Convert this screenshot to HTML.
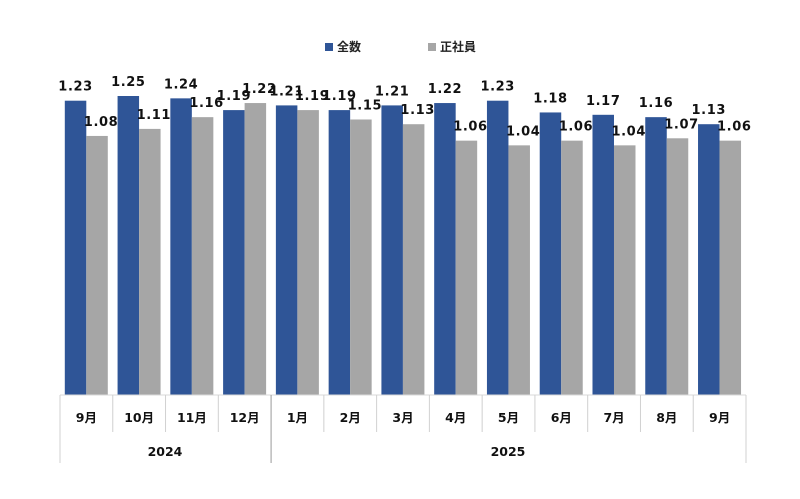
<!DOCTYPE html><html><head><meta charset="utf-8"><style>body{margin:0;background:#fff}</style></head><body>
<svg width="800" height="494" xmlns="http://www.w3.org/2000/svg" font-family="DejaVu Sans, 'Noto Sans CJK JP', sans-serif" font-weight="bold">
<rect x="325" y="43" width="8" height="8" fill="#2f5597"/><text x="337" y="51" font-size="12" fill="#222">全数</text>
<rect x="428" y="43" width="8" height="8" fill="#a6a6a6"/><text x="440" y="51" font-size="12" fill="#222">正社員</text>
<g fill="#2f5597">
<rect x="64.8" y="100.7" width="21.5" height="294.3"/>
<rect x="117.57" y="96" width="21.5" height="299"/>
<rect x="170.34" y="98.35" width="21.5" height="296.65"/>
<rect x="223.11" y="110.1" width="21.5" height="284.9"/>
<rect x="275.88" y="105.4" width="21.5" height="289.6"/>
<rect x="328.65" y="110.1" width="21.5" height="284.9"/>
<rect x="381.42" y="105.4" width="21.5" height="289.6"/>
<rect x="434.18" y="103.05" width="21.5" height="291.95"/>
<rect x="486.95" y="100.7" width="21.5" height="294.3"/>
<rect x="539.72" y="112.45" width="21.5" height="282.55"/>
<rect x="592.49" y="114.8" width="21.5" height="280.2"/>
<rect x="645.26" y="117.15" width="21.5" height="277.85"/>
<rect x="698.03" y="124.2" width="21.5" height="270.8"/>
</g>
<g fill="#a6a6a6">
<rect x="86.3" y="135.95" width="21.5" height="259.05"/>
<rect x="139.07" y="128.9" width="21.5" height="266.1"/>
<rect x="191.84" y="117.15" width="21.5" height="277.85"/>
<rect x="244.61" y="103.05" width="21.5" height="291.95"/>
<rect x="297.38" y="110.1" width="21.5" height="284.9"/>
<rect x="350.15" y="119.5" width="21.5" height="275.5"/>
<rect x="402.92" y="124.2" width="21.5" height="270.8"/>
<rect x="455.68" y="140.65" width="21.5" height="254.35"/>
<rect x="508.45" y="145.35" width="21.5" height="249.65"/>
<rect x="561.22" y="140.65" width="21.5" height="254.35"/>
<rect x="613.99" y="145.35" width="21.5" height="249.65"/>
<rect x="666.76" y="138.3" width="21.5" height="256.7"/>
<rect x="719.53" y="140.65" width="21.5" height="254.35"/>
</g>
<g font-size="13" text-anchor="middle" fill="#111" letter-spacing="0.6">
<text x="75.55" y="90.7">1.23</text>
<text x="128.32" y="86">1.25</text>
<text x="181.09" y="88.35">1.24</text>
<text x="233.86" y="100.1">1.19</text>
<text x="286.63" y="95.4">1.21</text>
<text x="339.4" y="100.1">1.19</text>
<text x="392.17" y="95.4">1.21</text>
<text x="444.93" y="93.05">1.22</text>
<text x="497.7" y="90.7">1.23</text>
<text x="550.47" y="102.45">1.18</text>
<text x="603.24" y="104.8">1.17</text>
<text x="656.01" y="107.15">1.16</text>
<text x="708.78" y="114.2">1.13</text>
<text x="101.05" y="125.95">1.08</text>
<text x="153.82" y="118.9">1.11</text>
<text x="206.59" y="107.15">1.16</text>
<text x="259.36" y="93.05">1.22</text>
<text x="312.13" y="100.1">1.19</text>
<text x="364.9" y="109.5">1.15</text>
<text x="417.67" y="114.2">1.13</text>
<text x="470.43" y="130.65">1.06</text>
<text x="523.2" y="135.35">1.04</text>
<text x="575.97" y="130.65">1.06</text>
<text x="628.74" y="135.35">1.04</text>
<text x="681.51" y="128.3">1.07</text>
<text x="734.28" y="130.65">1.06</text>
</g>
<line x1="60" y1="395" x2="746" y2="395" stroke="#d9d9d9"/>
<g stroke="#d0d0d0">
<line x1="60" y1="395" x2="60" y2="463"/>
<line x1="112.77" y1="395" x2="112.77" y2="432"/>
<line x1="165.54" y1="395" x2="165.54" y2="432"/>
<line x1="218.31" y1="395" x2="218.31" y2="432"/>
<line x1="271.08" y1="395" x2="271.08" y2="463" stroke="#999"/>
<line x1="323.85" y1="395" x2="323.85" y2="432"/>
<line x1="376.62" y1="395" x2="376.62" y2="432"/>
<line x1="429.38" y1="395" x2="429.38" y2="432"/>
<line x1="482.15" y1="395" x2="482.15" y2="432"/>
<line x1="534.92" y1="395" x2="534.92" y2="432"/>
<line x1="587.69" y1="395" x2="587.69" y2="432"/>
<line x1="640.46" y1="395" x2="640.46" y2="432"/>
<line x1="693.23" y1="395" x2="693.23" y2="432"/>
<line x1="746" y1="395" x2="746" y2="463"/>
</g>
<g font-size="12.5" text-anchor="middle" fill="#111">
<text x="86.38" y="422">9月</text>
<text x="139.15" y="422">10月</text>
<text x="191.92" y="422">11月</text>
<text x="244.69" y="422">12月</text>
<text x="297.46" y="422">1月</text>
<text x="350.23" y="422">2月</text>
<text x="403" y="422">3月</text>
<text x="455.76" y="422">4月</text>
<text x="508.53" y="422">5月</text>
<text x="561.3" y="422">6月</text>
<text x="614.07" y="422">7月</text>
<text x="666.84" y="422">8月</text>
<text x="719.61" y="422">9月</text>
<text x="165" y="456">2024</text>
<text x="508" y="456">2025</text>
</g>
</svg></body></html>
